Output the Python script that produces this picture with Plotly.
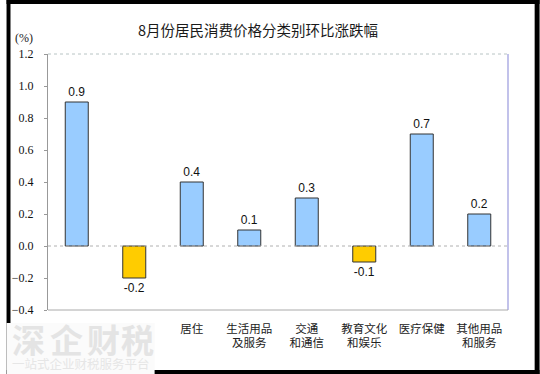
import plotly.graph_objects as go

categories = ["食品烟酒", "衣着", "居住", "生活用品<br>及服务", "交通<br>和通信",
              "教育文化<br>和娱乐", "医疗保健", "其他用品<br>和服务"]
values = [0.9, -0.2, 0.4, 0.1, 0.3, -0.1, 0.7, 0.2]
tick_vals = [-0.4, -0.2, 0.0, 0.2, 0.4, 0.6, 0.8, 1.0, 1.2]
title_text = "8月份居民消费价格分类别环比涨跌幅"
unit_text = "(%)"
watermark_big = ["深", "企", "财", "税"]
watermark_small = "一站式企业财税服务平台"

W, H = 540, 374
L, R, T, B = 42, 508, 54, 310  # plot area in pixels


def px(x):
    return (x - L) / (R - L)


def py(y):
    return (B - y) / (B - T)


colors = ["#99CCFF" if v >= 0 else "#FFCC00" for v in values]

fig = go.Figure(go.Bar(
    x=categories, y=values,
    marker=dict(color=colors, line=dict(color="#333333", width=1)),
    width=0.4,
    text=[f"{v:.1f}" for v in values],
    textposition="outside",
    textfont=dict(family="Liberation Sans, Arial", size=12, color="#111111"),
    cliponaxis=False,
    hoverinfo="skip",
))

shapes = [
    dict(type="line", xref="paper", yref="y", x0=0, x1=1, y0=0, y1=0,
         line=dict(color="#b0b0b0", width=1, dash="dot")),
    dict(type="line", xref="paper", yref="paper", x0=0, x1=1, y0=1, y1=1,
         line=dict(color="#b8c4c4", width=1, dash="dot")),
    dict(type="line", xref="paper", yref="paper", x0=1, x1=1, y0=0, y1=1,
         line=dict(color="#9999dd", width=1.2)),
    dict(type="line", xref="paper", yref="paper", x0=0, x1=1, y0=0, y1=0,
         line=dict(color="#aaaaaa", width=1)),
    dict(type="rect", xref="paper", yref="paper", x0=px(0), x1=px(W), y0=py(0), y1=py(4),
         fillcolor="black", line=dict(width=0)),
    dict(type="rect", xref="paper", yref="paper", x0=px(0), x1=px(4), y0=py(0), y1=py(H),
         fillcolor="black", line=dict(width=0)),
    dict(type="rect", xref="paper", yref="paper", x0=px(535), x1=px(W), y0=py(0), y1=py(H),
         fillcolor="black", line=dict(width=0)),
    dict(type="rect", xref="paper", yref="paper", x0=px(0), x1=px(W), y0=py(370), y1=py(H),
         fillcolor="black", line=dict(width=0)),
    dict(type="rect", xref="paper", yref="paper", x0=px(0), x1=px(150), y0=py(323), y1=py(H),
         fillcolor="#fbfbfb", line=dict(width=0)),
]

annotations = [
    dict(text=title_text, xref="paper", yref="paper", x=px(255), y=py(29),
         xanchor="center", yanchor="middle", showarrow=False,
         font=dict(family="Noto Sans CJK SC", size=14.5, color="#1a1a1a")),
    dict(text=unit_text, xref="paper", yref="paper", x=px(7), y=py(38),
         xanchor="left", yanchor="middle", showarrow=False,
         font=dict(family="Liberation Serif", size=12, color="#222222")),
    dict(text=watermark_small, xref="paper", yref="paper", x=px(75), y=py(363),
         xanchor="center", yanchor="middle", showarrow=False,
         font=dict(family="Noto Sans CJK SC", size=12.5, color="#e6e6e6")),
]
for ch, cx in zip(watermark_big, [22, 61, 98, 133]):
    annotations.append(dict(text=f"<b>{ch}</b>", xref="paper", yref="paper", x=px(cx), y=py(339),
                            xanchor="center", yanchor="middle", showarrow=False,
                            font=dict(family="Noto Sans CJK SC", size=33, color="#e4e4e4")))

fig.update_layout(
    width=W, height=H,
    margin=dict(l=L, r=W - R, t=T, b=H - B, pad=0),
    paper_bgcolor="white", plot_bgcolor="white",
    showlegend=False,
    shapes=shapes,
    annotations=annotations,
)
fig.update_xaxes(
    showgrid=False, zeroline=False, showline=False,
    ticks="", tickfont=dict(family="Noto Sans CJK SC", size=11.5, color="#222222"),
    ticklabelstandoff=10,
)
fig.update_yaxes(
    range=[-0.4, 1.2], tickvals=tick_vals, tickformat=".1f",
    showgrid=False, zeroline=False,
    showline=True, linecolor="#999999", linewidth=1,
    ticks="outside", ticklen=3, tickcolor="#999999",
    tickfont=dict(family="Liberation Serif", size=12, color="#111111"),
    ticklabelstandoff=8,
)

fig.write_html("out.html", config={"displayModeBar": False},
               post_script="document.body.style.margin='0';document.body.style.overflow='hidden';")
